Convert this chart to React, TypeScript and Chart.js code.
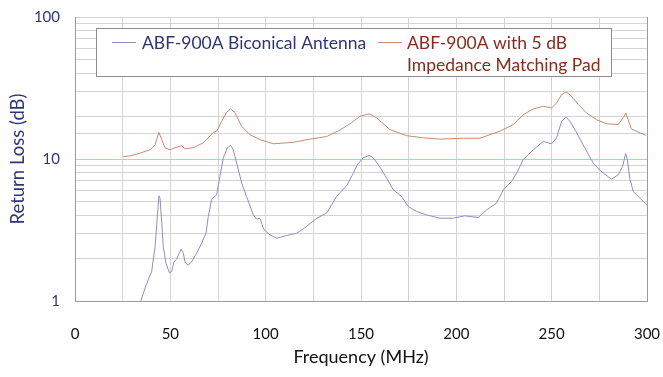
import React, { useEffect, useRef } from "react";
import { Chart, registerables } from "chart.js";

Chart.register(...registerables);

const bicoFreq = [25, 30, 34.4, 37.6, 40.2, 42, 43.2, 44.0, 44.6, 45.5, 46.3, 47.7, 49.5, 50.7, 51.9, 53.3, 54.7, 55.7, 56.8, 57.8, 59.4, 61.2, 63.8, 66.4, 68.7, 69.9, 71.7, 74.3, 75.7, 77.8, 79.9, 81.6, 83, 84.8, 87.4, 90, 93.5, 95.3, 97, 98.7, 100, 102.3, 105.8, 111, 116.3, 121.5, 126.8, 132, 137.2, 142.5, 145.9, 148, 151.2, 154.3, 156.4, 159.9, 163.4, 166.9, 171.3, 174.8, 179.2, 184.4, 191.4, 198.4, 204.5, 211.5, 215.9, 221.1, 224.6, 229, 231.6, 235.1, 240.3, 245.6, 250, 252.6, 255.2, 257.5, 259.6, 263.1, 267.4, 271.8, 277, 281.4, 284.9, 287.2, 288.8, 289.7, 291.1, 292.8, 296.3, 299.4, 300];
const bicoLoss = [0.55, 0.72, 0.99, 1.33, 1.61, 2.42, 3.94, 5.5, 5.3, 3.53, 2.42, 1.85, 1.58, 1.61, 1.89, 1.97, 2.17, 2.32, 2.17, 1.86, 1.79, 1.89, 2.17, 2.55, 3.0, 3.94, 5.22, 5.6, 7.14, 10.2, 11.97, 12.5, 11.6, 9.37, 6.77, 5.45, 4.04, 3.77, 3.83, 3.26, 3.1, 2.92, 2.77, 2.89, 3.0, 3.35, 3.83, 4.16, 5.45, 6.5, 7.9, 9.1, 10.2, 10.6, 10.2, 8.78, 7.34, 6.07, 5.45, 4.63, 4.27, 4.04, 3.83, 3.83, 3.98, 3.87, 4.39, 4.89, 6.07, 6.95, 7.96, 9.9, 11.6, 13.3, 12.8, 14.1, 18.4, 19.7, 18.4, 15.3, 11.97, 9.37, 7.96, 7.22, 7.75, 8.87, 10.9, 9.9, 7.14, 5.91, 5.3, 4.81, 4.75];

const padFreq = [25.3, 28.8, 34.1, 39.3, 42, 44, 45.1, 47.2, 49.8, 52.4, 55.9, 57.7, 62, 67.3, 69.9, 72.5, 74.3, 76.9, 79.5, 81.6, 83.9, 87.4, 91.8, 97, 104, 114.5, 123.2, 132, 139, 144.2, 149.5, 154.3, 158.2, 165.2, 173.9, 182.6, 191.4, 203.6, 212.4, 222.9, 229.9, 235.1, 240.3, 245.6, 250, 252.6, 255.2, 257.5, 259.6, 264, 268.3, 273.6, 278.8, 284.9, 287.5, 288.9, 290.1, 291.8, 296.3, 299.4];
const padLoss = [10.4, 10.5, 11.0, 11.6, 12.6, 15.4, 14.1, 12.0, 11.6, 12.0, 12.4, 11.8, 12.0, 13.0, 14.1, 15.4, 15.7, 18.4, 21.3, 22.5, 21.2, 17.0, 14.8, 13.7, 12.8, 13.1, 13.8, 14.4, 16.0, 17.7, 20.0, 20.8, 19.5, 16.1, 14.6, 14.1, 13.8, 14.0, 14.0, 15.7, 17.5, 20.5, 22.5, 23.5, 22.9, 24.8, 28.4, 29.7, 28.4, 24.2, 21.1, 18.9, 17.7, 17.5, 19.5, 21.1, 18.9, 16.3, 15.3, 14.7];

const seriesNames = ["ABF-900A Biconical Antenna", "ABF-900A with 5 dB\nImpedance Matching Pad"];
const xTickLabels = [0, 50, 100, 150, 200, 250, 300];
const yTickLabels = [1, 10, 100];

const FONT = "Lato, 'Open Sans', sans-serif";
const NAVY = "#2f3578";
const DARKRED = "#8a2a1c";
const BLUE_LINE = "#8e8ec0";
const ORANGE_LINE = "#c78a70";

const legendPlugin = {
  id: "boxLegend",
  afterDraw(chart: any) {
    const ctx = chart.ctx;
    const x0 = 96.5, y0 = 28.5, w = 515, h = 48;
    ctx.save();
    ctx.fillStyle = "#ffffff";
    ctx.fillRect(x0, y0, w, h);
    ctx.strokeStyle = "#8c8c8c";
    ctx.lineWidth = 1;
    ctx.strokeRect(x0, y0, w, h);
    ctx.font = `17.5px ${FONT}`;
    ctx.textBaseline = "middle";
    const entries = [
      { sx: 112, tx: 142, color: BLUE_LINE, textColor: NAVY },
      { sx: 378, tx: 407, color: ORANGE_LINE, textColor: DARKRED },
    ];
    chart.data.datasets.forEach((ds: any, i: number) => {
      const e = entries[i];
      ctx.strokeStyle = e.color;
      ctx.beginPath();
      ctx.moveTo(e.sx, 42.5);
      ctx.lineTo(e.sx + 24, 42.5);
      ctx.stroke();
      ctx.fillStyle = e.textColor;
      const lines = String(ds.label).split("\n");
      lines.forEach((ln: string, k: number) => {
        ctx.fillText(ln, e.tx, 43 + k * 22);
      });
    });
    ctx.restore();
  },
};

export default function App() {
  const ref = useRef<HTMLCanvasElement | null>(null);
  useEffect(() => {
    if (!ref.current) return;
    const chart = new Chart(ref.current, {
      type: "line",
      data: {
        datasets: [
          {
            label: seriesNames[0],
            data: bicoFreq.map((f, i) => ({ x: f, y: bicoLoss[i] })),
            borderColor: BLUE_LINE,
            borderWidth: 1,
            pointRadius: 0,
            tension: 0,
          },
          {
            label: seriesNames[1],
            data: padFreq.map((f, i) => ({ x: f, y: padLoss[i] })),
            borderColor: ORANGE_LINE,
            borderWidth: 1,
            pointRadius: 0,
            tension: 0,
          },
        ],
      },
      options: {
        animation: false,
        responsive: false,
        layout: { padding: { top: 17, right: 16, left: 0, bottom: 0 } },
        plugins: { legend: { display: false }, tooltip: { enabled: false } },
        scales: {
          x: {
            type: "linear",
            min: 0,
            max: 300,
            ticks: {
              stepSize: 25,
              autoSkip: false,
              maxRotation: 0,
              padding: 24,
              color: "#111111",
              font: { family: FONT, size: 15 },
              callback: (v: any) => (xTickLabels.includes(Number(v)) ? String(v) : ""),
            },
            grid: { color: "#d4d4d4", drawTicks: false },
            border: { color: "#9a9a9a" },
            title: {
              display: true,
              text: "Frequency (MHz)",
              color: "#111111",
              font: { family: FONT, size: 18 },
              padding: { top: 0, bottom: 9 },
            },
            afterFit: (s: any) => { s.height = 76; s.paddingLeft = 0; s.paddingRight = 0; },
          },
          y: {
            type: "logarithmic",
            min: 1,
            max: 100,
            ticks: {
              autoSkip: false,
              padding: 15,
              color: NAVY,
              font: { family: FONT, size: 15 },
              callback: (v: any) => (yTickLabels.includes(Number(v)) ? String(v) : ""),
            },
            grid: {
              color: (c: any) => (c.tick && c.tick.value === 10 ? "#f2b79c" : "#d4d4d4"),
              drawTicks: false,
            },
            border: { color: "#9a9a9a" },
            title: {
              display: true,
              text: "Return Loss (dB)",
              color: NAVY,
              font: { family: FONT, size: 18.5 },
              padding: { top: 7, bottom: 0 },
            },
            afterFit: (s: any) => { s.width = 75; s.paddingTop = 0; s.paddingBottom = 0; },
          },
        },
      },
      plugins: [
        legendPlugin,
        {
          id: "rightBorder",
          afterDatasetsDraw(chart: any) {
            const { ctx, chartArea } = chart;
            ctx.save();
            ctx.strokeStyle = "#9a9a9a";
            ctx.lineWidth = 1;
            ctx.beginPath();
            ctx.moveTo(Math.round(chartArea.right) + 0.5, chartArea.top);
            ctx.lineTo(Math.round(chartArea.right) + 0.5, chartArea.bottom);
            ctx.stroke();
            ctx.restore();
          },
        },
      ],
    } as any);
    return () => chart.destroy();
  }, []);
  return (
    <div style={{ position: "absolute", left: 0, top: 0, width: 663, height: 377, background: "#fff" }}>
      <canvas ref={ref} width={663} height={377} style={{ width: 663, height: 377 }} />
    </div>
  );
}
